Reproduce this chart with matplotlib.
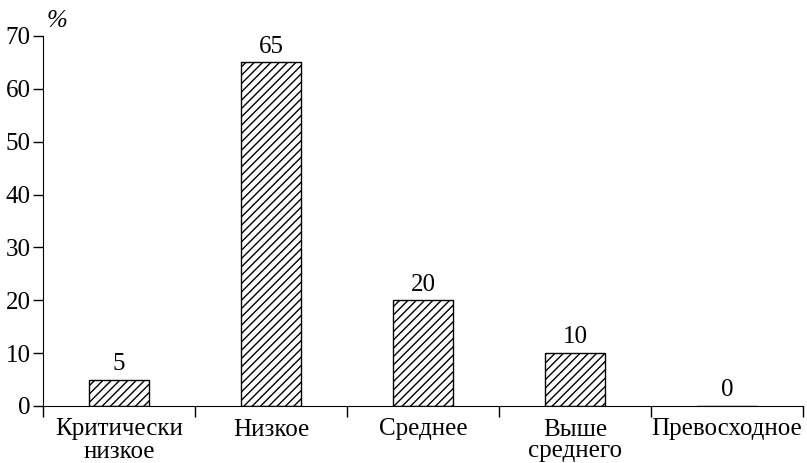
import matplotlib.pyplot as plt
import numpy as np

plt.rcParams['font.family'] = ['Liberation Serif', 'DejaVu Serif']
plt.rcParams['hatch.linewidth'] = 1.0

# Уровни и доли респондентов, %
categories = ['Критически\nнизкое', 'Низкое', 'Среднее', 'Выше\nсреднего', 'Превосходное']
values = [5, 65, 20, 10, 0]
y_ticks = [0, 10, 20, 30, 40, 50, 60, 70]

FS = 18

fig = plt.figure(figsize=(8.07, 4.63), dpi=100)
ax = fig.add_axes([43 / 807, 57 / 463, 760 / 807, 370 / 463])

x = np.arange(len(categories))
bars = ax.bar(x, values, width=0.4, color='white', edgecolor='black',
              linewidth=1.0, hatch='////')

for xi, v in zip(x, values):
    ax.text(xi, v + 0.9, str(v), ha='center', va='bottom', fontsize=FS)

ax.set_xlim(-0.5, len(categories) - 0.5)
ax.set_ylim(0, 70)
ax.set_yticks(y_ticks)
ax.set_yticklabels([str(t) for t in y_ticks], fontsize=FS)

# риски делений между категориями, подписи по центру
ax.set_xticks(np.arange(len(categories) + 1) - 0.5)
ax.set_xticklabels([])
ax.set_xticks(x, minor=True)
ax.set_xticklabels(categories, minor=True, fontsize=FS, linespacing=1.0)
ax.tick_params(axis='x', which='minor', length=0, pad=9)
ax.tick_params(axis='x', which='major', direction='out', length=8, width=1)
ax.tick_params(axis='y', direction='out', length=7, width=1, pad=2)

ax.spines['top'].set_visible(False)
ax.spines['right'].set_visible(False)

ax.text(0.005, 1.01, '%', transform=ax.transAxes, fontsize=FS,
        style='italic', ha='left', va='bottom')

fig.savefig('out.png', dpi=100)
